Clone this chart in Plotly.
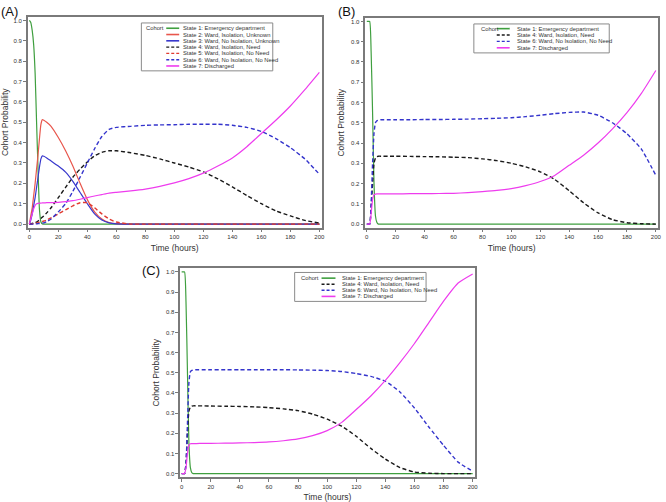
import plotly.graph_objects as go

W, H = 666, 502

# ---------------- data ----------------
time_a = [0, 1, 2, 3, 4, 5, 6, 7, 8, 9, 10, 12, 15, 20, 25, 30, 35, 40, 45, 50, 55, 60,
          70, 80, 90, 100, 110, 120, 130, 140, 150, 160, 170, 180, 190, 200]
a_state1 = [1.0, 0.99, 0.95, 0.88, 0.74, 0.5, 0.27, 0.07, 0.01, 0, 0, 0, 0, 0, 0, 0, 0, 0, 0, 0, 0, 0,
            0, 0, 0, 0, 0, 0, 0, 0, 0, 0, 0, 0, 0, 0]
a_state2 = [0, 0.04, 0.08, 0.14, 0.2, 0.27, 0.34, 0.42, 0.49, 0.513, 0.51, 0.5, 0.48, 0.425, 0.36, 0.285,
            0.2, 0.12, 0.06, 0.025, 0.008, 0.002, 0, 0, 0, 0, 0, 0, 0, 0, 0, 0, 0, 0, 0, 0]
a_state3 = [0, 0.02, 0.05, 0.09, 0.13, 0.18, 0.23, 0.28, 0.32, 0.335, 0.333, 0.325, 0.31, 0.285, 0.255,
            0.21, 0.155, 0.1, 0.05, 0.02, 0.006, 0.001, 0, 0, 0, 0, 0, 0, 0, 0, 0, 0, 0, 0, 0, 0]
a_state4 = [0, 0.001, 0.003, 0.005, 0.008, 0.01, 0.015, 0.02, 0.028, 0.034, 0.04, 0.055, 0.08, 0.13, 0.18,
            0.23, 0.27, 0.305, 0.335, 0.352, 0.36, 0.36, 0.35, 0.337, 0.32, 0.3, 0.28, 0.256, 0.222,
            0.183, 0.14, 0.1, 0.065, 0.04, 0.018, 0.005]
a_state5 = [0, 0, 0.001, 0.002, 0.003, 0.005, 0.007, 0.009, 0.011, 0.013, 0.015, 0.02, 0.03, 0.05, 0.07,
            0.09, 0.105, 0.105, 0.08, 0.05, 0.025, 0.01, 0, 0, 0, 0, 0, 0, 0, 0, 0, 0, 0, 0, 0, 0]
a_state6 = [0, 0, 0, 0, 0.001, 0.001, 0.002, 0.003, 0.004, 0.005, 0.006, 0.012, 0.025, 0.06, 0.1, 0.16,
            0.23, 0.3, 0.37, 0.43, 0.465, 0.475, 0.48, 0.485, 0.487, 0.488, 0.49, 0.49, 0.49, 0.485,
            0.475, 0.455, 0.42, 0.375, 0.32, 0.245]
a_state7 = [0, 0.025, 0.05, 0.075, 0.092, 0.1, 0.102, 0.103, 0.103, 0.104, 0.104, 0.105, 0.105, 0.107,
            0.11, 0.115, 0.122, 0.13, 0.138, 0.145, 0.152, 0.156, 0.163, 0.172, 0.185, 0.202, 0.223,
            0.25, 0.285, 0.325, 0.38, 0.445, 0.51, 0.58, 0.66, 0.745]

time_b = [0, 1, 2, 3, 4, 5, 6, 7, 8, 10, 15, 20, 30, 40, 50, 60, 70, 80, 90, 100,
          110, 120, 130, 140, 150, 160, 170, 180, 190, 200]
b_state1 = [1.0, 1.0, 1.0, 0.85, 0.55, 0.2, 0.04, 0.008, 0, 0, 0, 0, 0, 0, 0, 0, 0, 0, 0, 0,
            0, 0, 0, 0, 0, 0, 0, 0, 0, 0]
b_state4 = [0, 0, 0, 0.08, 0.2, 0.3, 0.325, 0.333, 0.335, 0.335, 0.335, 0.335, 0.334, 0.333, 0.332,
            0.33, 0.328, 0.322, 0.313, 0.3, 0.282, 0.258, 0.22, 0.165, 0.105, 0.055, 0.022, 0.007,
            0.002, 0]
b_state6 = [0, 0, 0, 0.1, 0.3, 0.45, 0.5, 0.51, 0.513, 0.515, 0.515, 0.515, 0.515, 0.516, 0.516,
            0.517, 0.518, 0.52, 0.522, 0.525, 0.53, 0.537, 0.545, 0.551, 0.553, 0.537, 0.5, 0.446,
            0.37, 0.24]
b_state7 = [0, 0, 0, 0.05, 0.12, 0.145, 0.148, 0.149, 0.149, 0.149, 0.149, 0.149, 0.15, 0.15, 0.151,
            0.152, 0.155, 0.16, 0.166, 0.175, 0.19, 0.21, 0.24, 0.29, 0.34, 0.4, 0.47, 0.55, 0.645,
            0.758]

time_c = [0, 1, 2, 3, 4, 5, 6, 7, 8, 10, 15, 20, 30, 40, 50, 60, 70, 80, 90, 100,
          110, 120, 130, 140, 150, 160, 170, 180, 190, 200]
c_state1 = [1.0, 1.0, 1.0, 0.85, 0.5, 0.15, 0.03, 0.005, 0, 0, 0, 0, 0, 0, 0, 0, 0, 0, 0, 0,
            0, 0, 0, 0, 0, 0, 0, 0, 0, 0]
c_state4 = [0, 0, 0, 0.05, 0.2, 0.31, 0.33, 0.335, 0.336, 0.336, 0.336, 0.335, 0.334, 0.333, 0.331,
            0.327, 0.321, 0.312, 0.295, 0.27, 0.235, 0.185, 0.125, 0.072, 0.03, 0.008, 0.002, 0,
            0, 0]
c_state6 = [0, 0, 0, 0.05, 0.25, 0.45, 0.505, 0.512, 0.514, 0.515, 0.515, 0.515, 0.515, 0.515,
            0.515, 0.515, 0.515, 0.514, 0.513, 0.511, 0.506, 0.496, 0.482, 0.458, 0.405, 0.325,
            0.23, 0.14, 0.057, 0.012]
c_state7 = [0, 0, 0, 0.03, 0.1, 0.14, 0.148, 0.149, 0.149, 0.149, 0.15, 0.15, 0.151, 0.152, 0.154,
            0.157, 0.163, 0.172, 0.188, 0.213, 0.254, 0.318, 0.385, 0.462, 0.55, 0.645, 0.75,
            0.855, 0.945, 0.99]

x_ticks = [0, 20, 40, 60, 80, 100, 120, 140, 160, 180, 200]
y_ticks = [0.0, 0.1, 0.2, 0.3, 0.4, 0.5, 0.6, 0.7, 0.8, 0.9, 1.0]

state_labels = {
    1: "State 1: Emergency department",
    2: "State 2: Ward, Isolation, Unknown",
    3: "State 3: Ward, No Isolation, Unknown",
    4: "State 4: Ward, Isolation, Need",
    5: "State 5: Ward, Isolation, No Need",
    6: "State 6: Ward, No Isolation, No Need",
    7: "State 7: Discharged",
}

# ---------------- styles ----------------
FONT = "Liberation Sans, Arial, Helvetica, sans-serif"
DASH = "4px,2.5px"
state_style = {
    1: dict(color="#3f9f3f", dash="solid", width=1.2),
    2: dict(color="#e8564c", dash="solid", width=1.2),
    3: dict(color="#3838cc", dash="solid", width=1.2),
    4: dict(color="#1a1a1a", dash=DASH, width=1.4),
    5: dict(color="#e03a30", dash=DASH, width=1.4),
    6: dict(color="#3434cc", dash=DASH, width=1.4),
    7: dict(color="#ee3cee", dash="solid", width=1.2),
}

panels = [
    dict(tag="(A)", ax="", time=time_a,
         series={1: a_state1, 2: a_state2, 3: a_state3, 4: a_state4, 5: a_state5, 6: a_state6, 7: a_state7},
         frame=(28, 17, 323, 228), label_xy=(0, 11.5),
         legend=dict(box=(142, 23, 274, 71), cohort=(145, 28.3), line=(167, 180), text=182, y0=28.3, dy=6.3)),
    dict(tag="(B)", ax="2", time=time_b,
         series={1: b_state1, 4: b_state4, 6: b_state6, 7: b_state7},
         frame=(367, 18, 661, 228), label_xy=(339, 11.5),
         legend=dict(box=(476, 24, 612, 53), cohort=(481, 28.7), line=(499, 512), text=517, y0=28.7, dy=6.4)),
    dict(tag="(C)", ax="3", time=time_c,
         series={1: c_state1, 4: c_state4, 6: c_state6, 7: c_state7},
         frame=(181, 269, 477, 478), label_xy=(142, 271),
         legend=dict(box=(296, 273, 428, 302), cohort=(300, 278.7), line=(323, 337), text=342, y0=278.7, dy=6.1)),
]


def px(x):
    return x / W


def py(y):
    return 1 - y / H


fig = go.Figure()
shapes = []
annotations = []
layout_axes = {}

for p in panels:
    ax = p["ax"]
    for s, vals in p["series"].items():
        st = state_style[s]
        fig.add_trace(go.Scatter(
            x=p["time"], y=vals, mode="lines", name=state_labels[s],
            line=dict(color=st["color"], dash=st["dash"], width=st["width"], shape="spline", smoothing=0.5),
            xaxis="x" + ax, yaxis="y" + ax, showlegend=False, hoverinfo="x+y+name",
        ))
    x0, y0, x1, y1 = p["frame"]
    common = dict(showline=True, mirror=True, linecolor="#7a7a7a", linewidth=1.5,
                  ticks="outside", ticklen=3, tickwidth=1, tickcolor="#7a7a7a",
                  showgrid=False, zeroline=False,
                  tickfont=dict(family=FONT, size=6, color="#333333"))
    layout_axes["xaxis" + ax] = dict(
        common, domain=[px(x0), px(x1)], range=[-1, 201.5], tickvals=x_ticks,
        anchor="y" + ax,
        title=dict(text="Time (hours)", font=dict(family=FONT, size=8.5, color="#333333"), standoff=6))
    layout_axes["yaxis" + ax] = dict(
        common, domain=[py(y1), py(y0)], range=[-0.017, 1.017], tickvals=y_ticks, tickformat=".1f",
        anchor="x" + ax,
        title=dict(text="Cohort Probability", font=dict(family=FONT, size=8.5, color="#333333"), standoff=5))

    # panel label
    lx, ly = p["label_xy"]
    annotations.append(dict(text=p["tag"], x=px(lx), y=py(ly), xref="paper", yref="paper",
                            xanchor="left", yanchor="middle", showarrow=False, borderpad=0,
                            font=dict(family=FONT, size=13, color="#111111")))

    # legend box (drawn by hand so the rows stay as compact as the original)
    lg = p["legend"]
    bx0, by0, bx1, by1 = lg["box"]
    shapes.append(dict(type="rect", xref="paper", yref="paper",
                       x0=px(bx0), x1=px(bx1), y0=py(by1), y1=py(by0),
                       line=dict(color="#8a8a8a", width=1), fillcolor="white"))
    annotations.append(dict(text="Cohort", x=px(lg["cohort"][0]), y=py(lg["cohort"][1]),
                            xref="paper", yref="paper", xanchor="left", yanchor="middle",
                            showarrow=False, font=dict(family=FONT, size=5.8, color="#333333")))
    for i, s in enumerate(p["series"].keys()):
        st = state_style[s]
        yy = lg["y0"] + i * lg["dy"]
        shapes.append(dict(type="line", xref="paper", yref="paper",
                           x0=px(lg["line"][0]), x1=px(lg["line"][1]), y0=py(yy), y1=py(yy),
                           line=dict(color=st["color"], width=1.4 if st["dash"] != "solid" else 1.6,
                                     dash="3px,2px" if st["dash"] != "solid" else "solid")))
        annotations.append(dict(text=state_labels[s], x=px(lg["text"]), y=py(yy),
                                xref="paper", yref="paper", xanchor="left", yanchor="middle",
                                showarrow=False, font=dict(family=FONT, size=5.8, color="#333333")))

fig.update_layout(
    width=W, height=H, margin=dict(l=0, r=0, t=0, b=0),
    paper_bgcolor="white", plot_bgcolor="white",
    font=dict(family=FONT, color="#333333"),
    showlegend=False, shapes=shapes, annotations=annotations,
    **layout_axes,
)

# remove the browser's default 8px page margin so the figure fills the window exactly
fig.write_html("out.html", config={"displayModeBar": False},
               post_script="document.body.style.margin='0';document.body.style.overflow='hidden';")
